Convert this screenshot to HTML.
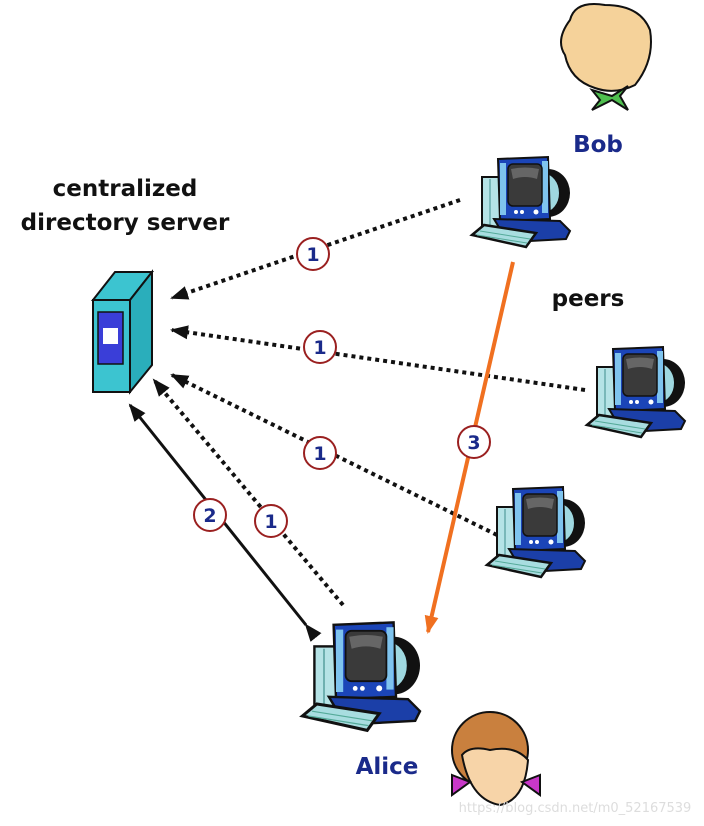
<!DOCTYPE html>
<html><head><meta charset="utf-8"><style>
html,body{margin:0;padding:0;background:#fff;width:704px;height:826px;overflow:hidden}
svg{display:block}
text{font-family:"DejaVu Sans","Liberation Sans",sans-serif;font-weight:bold}
</style></head><body>
<svg width="704" height="826" viewBox="0 0 704 826" xmlns="http://www.w3.org/2000/svg">
<defs>
<g id="pc">
  <ellipse cx="78" cy="38" rx="22" ry="24" fill="#111"/>
  <ellipse cx="74" cy="38" rx="16" ry="20" fill="#9fd8e0" stroke="#111" stroke-width="2"/>
  <rect x="12" y="22" width="20" height="56" fill="#b5e3e6" stroke="#111" stroke-width="2"/>
  <line x1="20" y1="24" x2="20" y2="76" stroke="#6aa" stroke-width="1.5"/>
  <polygon points="28,4 78,2 80,64 30,66" fill="#1b45b8" stroke="#111" stroke-width="2"/>
  <rect x="30" y="8" width="6" height="52" fill="#7fc4ee"/>
  <rect x="72" y="6" width="6" height="52" fill="#7fc4ee"/>
  <rect x="38" y="9" width="34" height="42" rx="5" fill="#3a3a3a" stroke="#111" stroke-width="1.5"/>
  <path d="M41 14 Q55 11 69 14 L67 24 Q55 20 43 24 Z" fill="#666"/>
  <circle cx="46" cy="57" r="2" fill="#fff"/><circle cx="52" cy="57" r="2" fill="#fff"/><circle cx="66" cy="57" r="2.5" fill="#fff"/>
  <polygon points="24,64 90,66 100,76 96,84 60,86 30,74" fill="#1b3fa8" stroke="#111" stroke-width="2"/>
  <polygon points="2,80 14,70 66,78 56,92" fill="#a8dde0" stroke="#111" stroke-width="2.5"/>
  <line x1="10" y1="76" x2="60" y2="84" stroke="#5a9" stroke-width="1"/>
  <line x1="7" y1="80" x2="57" y2="88" stroke="#5a9" stroke-width="1"/>
</g>
<marker id="ahb" markerWidth="18" markerHeight="18" refX="16" refY="9" orient="auto" markerUnits="userSpaceOnUse" viewBox="0 0 18 18">
  <path d="M0,2 L18,9 L0,16 Z" fill="#111"/></marker>
<marker id="aho" markerWidth="18" markerHeight="18" refX="16" refY="9" orient="auto" markerUnits="userSpaceOnUse" viewBox="0 0 18 18">
  <path d="M0,2 L18,9 L0,16 Z" fill="#f07020"/></marker>
</defs>

<text x="125" y="196" font-size="23" text-anchor="middle" fill="#111">centralized</text>
<text x="125" y="230" font-size="23" text-anchor="middle" fill="#111">directory server</text>
<text x="598" y="152" font-size="23" text-anchor="middle" fill="#1a2a8a">Bob</text>
<text x="588" y="306" font-size="23" text-anchor="middle" fill="#111">peers</text>
<text x="387" y="774" font-size="23" text-anchor="middle" fill="#1a2a8a">Alice</text>

<polygon points="93,300 115,272 152,272 130,300" fill="#3cc4d0" stroke="#111" stroke-width="2"/>
<polygon points="130,300 152,272 152,365 130,392" fill="#2aaebb" stroke="#111" stroke-width="2"/>
<rect x="93" y="300" width="37" height="92" fill="#3cc4d0" stroke="#111" stroke-width="2"/>
<rect x="98" y="312" width="25" height="52" fill="#3a3ed8" stroke="#111" stroke-width="1.5"/>
<rect x="103" y="328" width="15" height="16" fill="#fff"/>

<g stroke="#111" stroke-width="4" stroke-dasharray="4,4" fill="none" marker-end="url(#ahb)">
<line x1="460" y1="200" x2="172" y2="298"/>
<line x1="585" y1="390" x2="172" y2="330"/>
<line x1="497" y1="535" x2="172" y2="375"/>
<line x1="343" y1="605" x2="154" y2="380"/>
</g>
<line x1="306" y1="625" x2="130" y2="405" stroke="#111" stroke-width="3" marker-end="url(#ahb)" marker-start="url(#ahb)"/>
<line x1="513" y1="262" x2="428" y2="632" stroke="#f07020" stroke-width="4" marker-end="url(#aho)"/>

<g font-size="19" text-anchor="middle">
<g fill="#fff" stroke="#9a2020" stroke-width="2">
<circle cx="313" cy="254" r="16"/><circle cx="320" cy="347" r="16"/><circle cx="320" cy="453" r="16"/>
<circle cx="271" cy="521" r="16"/><circle cx="210" cy="515" r="16"/><circle cx="474" cy="442" r="16"/>
</g>
<g fill="#1a2a8a">
<text x="313" y="261">1</text><text x="320" y="354">1</text><text x="320" y="460">1</text>
<text x="271" y="528">1</text><text x="210" y="522">2</text><text x="474" y="449">3</text>
</g></g>

<use href="#pc" transform="translate(470,155)"/>
<use href="#pc" transform="translate(585,345)"/>
<use href="#pc" transform="translate(485,485)"/>
<use href="#pc" transform="translate(300,620) scale(1.2)"/>

<g stroke="#111" stroke-width="2">
<path d="M570 20 Q575 0 605 5 Q640 5 650 30 Q655 60 635 85 Q615 95 595 88 Q570 80 565 55 Q555 40 570 20 Z" fill="#f5d29a"/>
<polygon points="592,90 600,100 592,110 612,100 628,110 620,96 628,86 612,96" fill="#4fbf4f"/>
</g>
<g stroke="#111" stroke-width="2">
<ellipse cx="490" cy="750" rx="38" ry="38" fill="#c9803e"/>
<path d="M462 755 Q470 800 500 805 Q525 800 528 760 Q515 745 490 750 Q470 745 462 755 Z" fill="#f7d4a8"/>
<polygon points="452,775 470,782 452,795" fill="#c838c8"/>
<polygon points="540,775 522,782 540,795" fill="#c838c8"/>
</g>
<text x="575" y="812" font-size="13" text-anchor="middle" fill="#ddd" style="font-weight:normal">https://blog.csdn.net/m0_52167539</text>
</svg>
</body></html>
